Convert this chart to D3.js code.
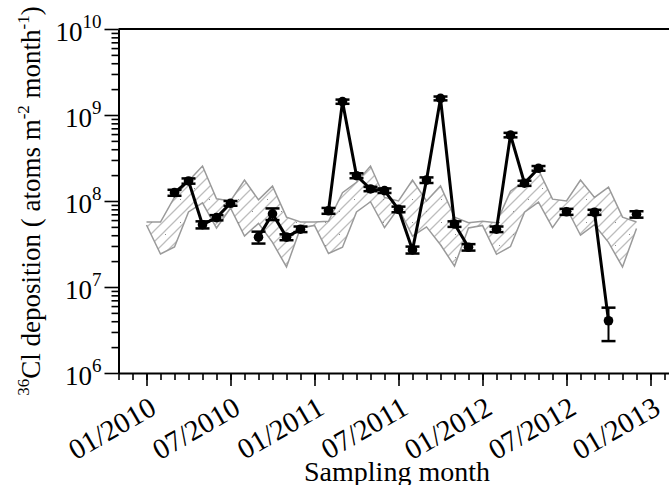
<!DOCTYPE html>
<html>
<head>
<meta charset="utf-8">
<script src="https://cdn.jsdelivr.net/npm/d3@7"></script>
<style>
  body { margin: 0; background: #fff; }
  svg { display: block; font-family: "Liberation Serif", "Times New Roman", serif; }
</style>
</head>
<body>
<svg id="chart" width="669" height="485"></svg>
<script>
// Monthly 36Cl deposition samples (atoms m^-2 month^-1) with 1-sigma uncertainty
const sampleMonths = ["2010-03","2010-04","2010-05","2010-06","2010-07","2010-09","2010-10","2010-11","2010-12",
  "2011-02","2011-03","2011-04","2011-05","2011-06","2011-07","2011-08","2011-09","2011-10","2011-11","2011-12",
  "2012-02","2012-03","2012-04","2012-05","2012-07","2012-09","2012-10","2012-12"];
const deposition = [1.25e8,1.71e8,5.3e7,6.4e7,9.4e7,3.8e7,7.1e7,3.8e7,4.7e7,
  7.7e7,1.43e9,1.97e8,1.38e8,1.32e8,8.0e7,2.7e7,1.75e8,1.56e9,5.4e7,2.9e7,
  4.7e7,5.85e8,1.61e8,2.4e8,7.5e7,7.4e7,4.05e6,7.0e7];
const depositionErr = [1.0e7,1.2e7,5e6,4.5e6,6e6,6e6,1.1e7,3e6,3.5e6,
  6e6,8e7,1.3e7,8e6,8e6,6e6,2.5e6,1.3e7,8e7,4e6,2.5e6,
  3.5e6,3.5e7,1.1e7,1.5e7,6e6,5e6,1.7e6,6e6];

// Expected deposition range (hatched band), Jan 2010 - Dec 2012
const bandMonths = ["2010-01","2010-02","2010-03","2010-04","2010-05","2010-06","2010-07","2010-08","2010-09","2010-10","2010-11","2010-12",
  "2011-01","2011-02","2011-03","2011-04","2011-05","2011-06","2011-07","2011-08","2011-09","2011-10","2011-11","2011-12",
  "2012-01","2012-02","2012-03","2012-04","2012-05","2012-06","2012-07","2012-08","2012-09","2012-10","2012-11","2012-12"];
const bandUpper = [5.7e7,5.7e7,1.11e8,1.71e8,2.55e8,1.06e8,1.0e8,1.75e8,1.03e8,1.49e8,6.5e7,5.7e7,
  5.7e7,5.8e7,1.25e8,1.65e8,2.55e8,1.1e8,1.0e8,1.75e8,1.0e8,1.5e8,6.5e7,5.6e7,
  5.8e7,5.6e7,1.3e8,1.7e8,2.3e8,1.05e8,1.0e8,1.75e8,1.1e8,1.45e8,6.5e7,5.7e7];
const bandLower = [5.26e7,2.42e7,2.92e7,7.45e7,9.5e7,4.85e7,8.3e7,3.92e7,5.5e7,3.3e7,1.71e7,4.85e7,
  5.2e7,2.45e7,2.9e7,7.45e7,9.8e7,4.9e7,8.3e7,3.9e7,5.0e7,3.1e7,1.75e7,4.85e7,
  5.2e7,2.4e7,2.95e7,7.4e7,9.7e7,4.9e7,8.3e7,4.0e7,5.3e7,3.3e7,1.71e7,4.8e7];

const xTickMonths = ["2010-01","2010-07","2011-01","2011-07","2012-01","2012-07","2013-01"];
const xTickLabels = ["01/2010","07/2010","01/2011","07/2011","01/2012","07/2012","01/2013"];
const yTickExponents = [6, 7, 8, 9, 10];

// month index counted from Jan 2010
const monthIndex = s => { const [yr, mo] = s.split("-").map(Number); return (yr - 2010) * 12 + (mo - 1); };

const svg = d3.select("#chart");
const plotLeft = 118.5, plotTop = 29, plotBottom = 373;
const pxPerMonth = 14;

const x = d3.scaleLinear().domain([-2, 37.5]).range([plotLeft, plotLeft + 39.5 * pxPerMonth]);
const y = d3.scaleLog().domain([1e6, 1e10]).range([plotBottom, plotTop]);

// hatch + sparse dot patterns for the band
const defs = svg.append("defs");
const pat = defs.append("pattern").attr("id", "hatch")
  .attr("patternUnits", "userSpaceOnUse").attr("width", 11).attr("height", 11);
pat.append("path").attr("d", "M-1,1 l2,-2 M0,11 l11,-11 M10,12 l2,-2")
  .attr("stroke", "#bdbdbd").attr("stroke-width", 1.3);
const dots = defs.append("pattern").attr("id", "dots")
  .attr("patternUnits", "userSpaceOnUse").attr("width", 29).attr("height", 23);
dots.append("rect").attr("x", 6).attr("y", 15).attr("width", 1).attr("height", 1).attr("fill", "#8a8a8a");
dots.append("rect").attr("x", 20).attr("y", 4).attr("width", 1).attr("height", 1).attr("fill", "#8a8a8a");

// band
const band = bandMonths.map((m, i) => ({ m: monthIndex(m), hi: bandUpper[i], lo: bandLower[i] }));
const bandArea = d3.area().x(d => x(d.m)).y0(d => y(d.lo)).y1(d => y(d.hi));
svg.append("path").datum(band).attr("d", bandArea).attr("fill", "url(#hatch)");
svg.append("path").datum(band).attr("d", bandArea).attr("fill", "url(#dots)");
["hi", "lo"].forEach(k => {
  svg.append("path").datum(band)
    .attr("d", d3.line().x(d => x(d.m)).y(d => y(d[k])))
    .attr("fill", "none").attr("stroke", "#9a9a9a").attr("stroke-width", 1.5);
});

// samples: connected through consecutive months, broken at missing months
const samples = sampleMonths.map((m, i) => ({ m: monthIndex(m), v: deposition[i], e: depositionErr[i] }));
const byMonth = new Map(samples.map(d => [d.m, d]));
const firstM = d3.min(samples, d => d.m), lastM = d3.max(samples, d => d.m);
const series = d3.range(firstM, lastM + 1).map(m => byMonth.get(m) || { m, v: null });

svg.append("path").datum(series)
  .attr("d", d3.line().defined(d => d.v != null).x(d => x(d.m)).y(d => y(d.v)))
  .attr("fill", "none").attr("stroke", "#000").attr("stroke-width", 3).attr("stroke-linejoin", "round");

const capW = 7;
const eb = svg.append("g").attr("stroke", "#000");
samples.forEach(d => {
  const cx = x(d.m), y1 = y(d.v + d.e), y0 = y(Math.max(d.v - d.e, 1e6));
  eb.append("line").attr("x1", cx).attr("x2", cx).attr("y1", y1).attr("y2", y0).attr("stroke-width", 2);
  eb.append("line").attr("x1", cx - capW).attr("x2", cx + capW).attr("y1", y1).attr("y2", y1).attr("stroke-width", 2.5);
  eb.append("line").attr("x1", cx - capW).attr("x2", cx + capW).attr("y1", y0).attr("y2", y0).attr("stroke-width", 2.5);
});
svg.append("g").selectAll("circle").data(samples).join("circle")
  .attr("cx", d => x(d.m)).attr("cy", d => y(d.v)).attr("r", 4.8).attr("fill", "#000");

// frame top
svg.append("line").attr("x1", plotLeft).attr("x2", 669).attr("y1", plotTop).attr("y2", plotTop)
  .attr("stroke", "#000").attr("stroke-width", 2);

// x axis
svg.append("g").attr("transform", `translate(0,${plotBottom})`)
  .call(d3.axisBottom(x).tickValues(d3.range(-2, 38)).tickSize(7).tickSizeOuter(0).tickFormat(""));
const xMajor = svg.append("g").attr("transform", `translate(0,${plotBottom})`)
  .call(d3.axisBottom(x).tickValues(xTickMonths.map(monthIndex)).tickSize(13).tickSizeOuter(0)
    .tickFormat((d, i) => xTickLabels[i]));
xMajor.select(".domain").remove();
xMajor.selectAll("text")
  .attr("x", 0).attr("y", 0).attr("dy", 0)
  .attr("transform", "translate(11,40) rotate(-30)")
  .attr("text-anchor", "end").attr("fill", "#000")
  .style("font-size", "29px").style("font-family", "'Liberation Serif', serif");

// y axis
const yMinorVals = [];
for (let e = 6; e < 10; e++) for (let k = 2; k <= 9; k++) yMinorVals.push(k * Math.pow(10, e));
svg.append("g").attr("transform", `translate(${plotLeft},0)`)
  .call(d3.axisLeft(y).tickValues(yMinorVals).tickSize(7).tickSizeOuter(0).tickFormat(""));
const yMajor = svg.append("g").attr("transform", `translate(${plotLeft},0)`)
  .call(d3.axisLeft(y).tickValues(yTickExponents.map(e => Math.pow(10, e))).tickSize(14).tickSizeOuter(0).tickFormat(""));
yMajor.select(".domain").remove();
yMajor.selectAll(".tick").each(function (d) {
  const t = d3.select(this).append("text")
    .attr("x", -17).attr("y", 11).attr("text-anchor", "end").attr("fill", "#000")
    .style("font-family", "'Liberation Serif', serif");
  t.append("tspan").style("font-size", "27px").text("10");
  t.append("tspan").style("font-size", "19px").attr("dy", -13).text(Math.round(Math.log10(d)));
});

svg.selectAll(".domain").attr("stroke", "#000").attr("stroke-width", 2);
svg.selectAll(".tick line").attr("stroke", "#000").attr("stroke-width", 1.6);

// axis titles
svg.append("text").attr("x", 397).attr("y", 481).attr("text-anchor", "middle")
  .style("font-size", "28px").text("Sampling month");

const yt = svg.append("text").attr("transform", "translate(40,201) rotate(-90)")
  .attr("text-anchor", "middle").style("font-size", "27px");
yt.append("tspan").style("font-size", "17px").attr("dy", -11).text("36");
yt.append("tspan").attr("dy", 11).text("Cl deposition ( atoms m");
yt.append("tspan").style("font-size", "17px").attr("dy", -11).text("-2");
yt.append("tspan").attr("dy", 11).text(" month");
yt.append("tspan").style("font-size", "17px").attr("dy", -11).text("-1");
yt.append("tspan").attr("dy", 11).text(")");
</script>
</body>
</html>
